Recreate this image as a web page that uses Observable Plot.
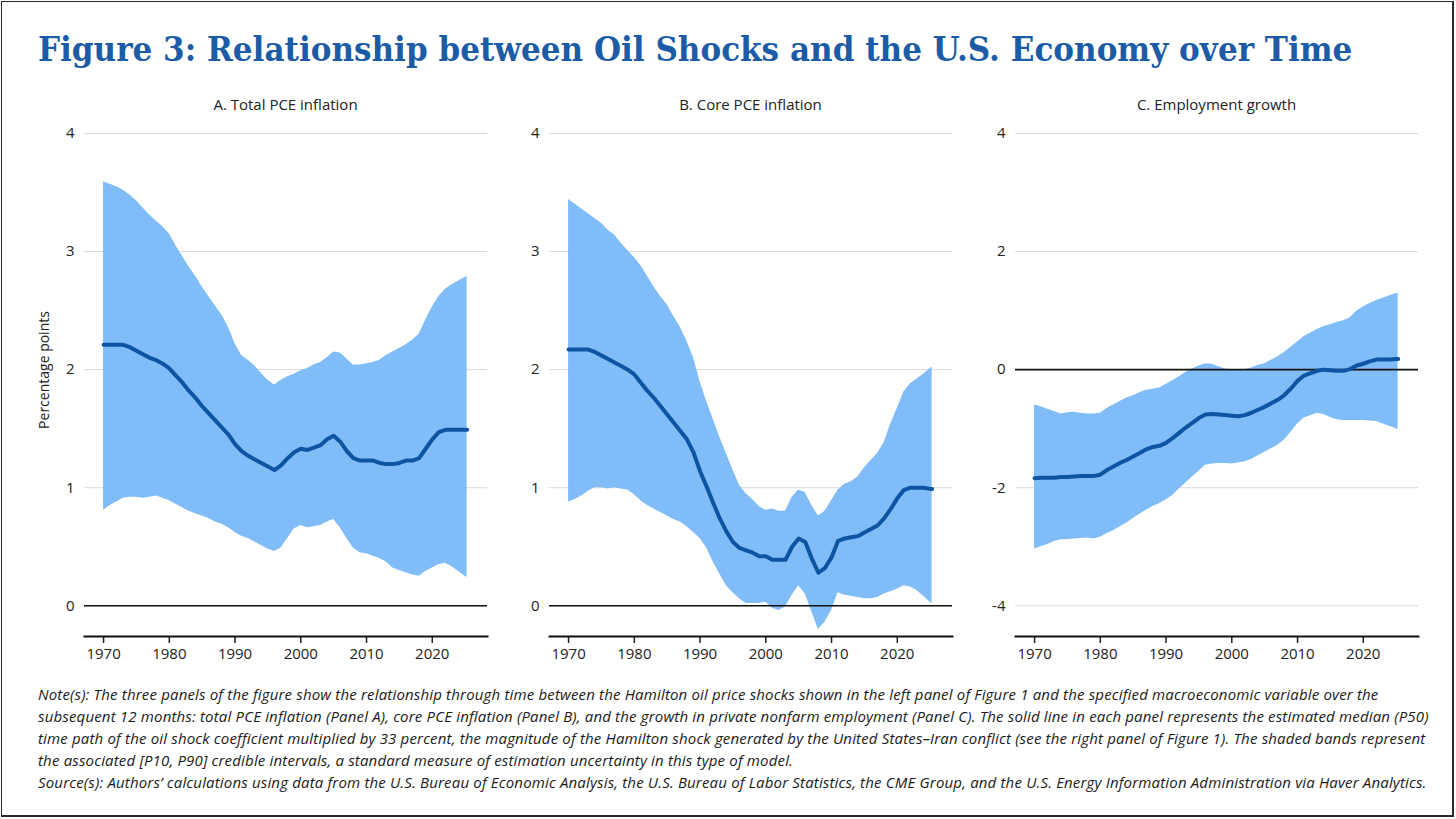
<!DOCTYPE html>
<html>
<head>
<meta charset="utf-8">
<script src="https://cdn.jsdelivr.net/npm/d3@7"></script>
<script src="https://cdn.jsdelivr.net/npm/@observablehq/plot@0.6"></script>
<style>
  html, body { margin: 0; padding: 0; background: #fff; }
  #page { position: relative; width: 1456px; height: 819px; overflow: hidden; background: #fff; font-family: "Open Sans", sans-serif; color: #222; }
  #border { position: absolute; left: 1px; top: 1px; width: 1450px; height: 813px; border: 2px solid #2a2a2a; border-top-width: 1px; border-left-width: 1px; }
  #title { position: absolute; left: 38px; top: 27px; font-family: "DejaVu Serif", serif; font-weight: bold; font-size: 34px; line-height: 44px; color: #1c5ca7; white-space: nowrap; transform-origin: 0 50%; }
  .ptitle { position: absolute; top: 94px; width: 403px; text-align: center; font-size: 15px; color: #222; }
  .panel { position: absolute; top: 120px; }
  #notes { position: absolute; left: 38px; top: 683px; font-size: 15px; letter-spacing: 0.17px; line-height: 22px; font-style: italic; color: #1a1a1a; white-space: nowrap; }
</style>
</head>
<body>
<div id="page">
  <div id="border"></div>
  <div id="title">Figure 3: Relationship between Oil Shocks and the U.S. Economy over Time</div>
  <div class="ptitle" style="left:84px">A. Total PCE inflation</div>
  <div class="ptitle" style="left:549px">B. Core PCE inflation</div>
  <div class="ptitle" style="left:1015px">C. Employment growth</div>
  <div class="panel" id="panelA" style="left:22px"></div>
  <div class="panel" id="panelB" style="left:487px"></div>
  <div class="panel" id="panelC" style="left:953px"></div>
  <div id="notes">
    Note(s): The three panels of the figure show the relationship through time between the Hamilton oil price shocks shown in the left panel of Figure 1 and the specified macroeconomic variable over the<br>
    subsequent 12 months: total PCE inflation (Panel A), core PCE inflation (Panel B), and the growth in private nonfarm employment (Panel C). The solid line in each panel represents the estimated median (P50)<br>
    time path of the oil shock coefficient multiplied by 33 percent, the magnitude of the Hamilton shock generated by the United States–Iran conflict (see the right panel of Figure 1). The shaded bands represent<br>
    the associated [P10, P90] credible intervals, a standard measure of estimation uncertainty in this type of model.<br>
    Source(s): Authors’ calculations using data from the U.S. Bureau of Economic Analysis, the U.S. Bureau of Labor Statistics, the CME Group, and the U.S. Energy Information Administration via Haver Analytics.
  </div>
</div>
<script>
// Sample dates (year), shared by every series below
const years = [
  1970, 1971, 1972, 1973, 1974, 1975, 1976, 1977, 1978, 1979,
  1980, 1981, 1982, 1983, 1984, 1985, 1986, 1987, 1988, 1989,
  1990, 1991, 1992, 1993, 1994, 1995, 1996, 1997, 1998, 1999,
  2000, 2001, 2002, 2003, 2004, 2005, 2006, 2007, 2008, 2009,
  2010, 2011, 2012, 2013, 2014, 2015, 2016, 2017, 2018, 2019,
  2020, 2021, 2022, 2023, 2024, 2025, 2025.3
];

// Panel A: total PCE inflation (percentage points)
const totalP90 = [
  3.59, 3.57, 3.55, 3.52, 3.48, 3.43, 3.37, 3.31, 3.26, 3.21,
  3.15, 3.05, 2.96, 2.87, 2.79, 2.70, 2.62, 2.54, 2.46, 2.36,
  2.22, 2.12, 2.08, 2.03, 1.97, 1.91, 1.87, 1.91, 1.94, 1.96,
  1.99, 2.01, 2.04, 2.06, 2.10, 2.15, 2.14, 2.09, 2.04, 2.04,
  2.05, 2.06, 2.08, 2.12, 2.15, 2.18, 2.21, 2.25, 2.30, 2.42,
  2.53, 2.62, 2.68, 2.72, 2.75, 2.78, 2.79
];
const totalP50 = [
  2.21, 2.21, 2.21, 2.21, 2.19, 2.16, 2.13, 2.10, 2.08, 2.05,
  2.01, 1.95, 1.89, 1.82, 1.76, 1.69, 1.63, 1.57, 1.51, 1.45,
  1.37, 1.31, 1.27, 1.24, 1.21, 1.18, 1.15, 1.19, 1.25, 1.30,
  1.33, 1.32, 1.34, 1.36, 1.41, 1.44, 1.39, 1.31, 1.25, 1.23,
  1.23, 1.23, 1.21, 1.20, 1.20, 1.21, 1.23, 1.23, 1.25, 1.33,
  1.41, 1.47, 1.49, 1.49, 1.49, 1.49, 1.49
];
const totalP10 = [
  0.81, 0.85, 0.88, 0.91, 0.92, 0.92, 0.91, 0.92, 0.93, 0.91,
  0.89, 0.86, 0.83, 0.80, 0.78, 0.76, 0.74, 0.71, 0.69, 0.66,
  0.62, 0.59, 0.57, 0.54, 0.51, 0.48, 0.46, 0.49, 0.57, 0.65,
  0.68, 0.66, 0.67, 0.68, 0.71, 0.73, 0.66, 0.57, 0.49, 0.45,
  0.44, 0.42, 0.40, 0.37, 0.32, 0.30, 0.28, 0.26, 0.25, 0.29,
  0.32, 0.35, 0.36, 0.33, 0.29, 0.25, 0.24
];

// Panel B: core PCE inflation (percentage points)
const coreP90 = [
  3.44, 3.40, 3.36, 3.32, 3.28, 3.24, 3.18, 3.14, 3.07, 3.01,
  2.95, 2.88, 2.79, 2.70, 2.62, 2.55, 2.45, 2.36, 2.24, 2.10,
  1.90, 1.73, 1.58, 1.43, 1.29, 1.15, 1.02, 0.95, 0.90, 0.84,
  0.81, 0.82, 0.80, 0.80, 0.92, 0.98, 0.96, 0.85, 0.76, 0.80,
  0.89, 0.98, 1.03, 1.05, 1.09, 1.17, 1.23, 1.29, 1.38, 1.54,
  1.67, 1.81, 1.88, 1.92, 1.96, 2.01, 2.02
];
const coreP50 = [
  2.17, 2.17, 2.17, 2.17, 2.15, 2.12, 2.09, 2.06, 2.03, 2.00,
  1.96, 1.89, 1.82, 1.76, 1.69, 1.62, 1.55, 1.48, 1.41, 1.30,
  1.14, 1.01, 0.87, 0.74, 0.63, 0.54, 0.49, 0.47, 0.45, 0.42,
  0.42, 0.39, 0.39, 0.39, 0.50, 0.57, 0.54, 0.40, 0.28, 0.32,
  0.41, 0.55, 0.57, 0.58, 0.59, 0.62, 0.65, 0.68, 0.74, 0.82,
  0.91, 0.98, 1.00, 1.00, 1.00, 0.99, 0.99
];
const coreP10 = [
  0.88, 0.90, 0.93, 0.97, 1.00, 1.00, 0.99, 1.00, 0.99, 0.98,
  0.94, 0.89, 0.85, 0.82, 0.79, 0.76, 0.73, 0.71, 0.67, 0.62,
  0.57, 0.49, 0.37, 0.27, 0.17, 0.11, 0.06, 0.02, 0.02, 0.02,
  0.03, -0.02, -0.04, -0.01, 0.09, 0.17, 0.10, -0.05, -0.20, -0.14,
  -0.04, 0.11, 0.09, 0.08, 0.07, 0.06, 0.06, 0.07, 0.10, 0.12,
  0.14, 0.17, 0.16, 0.13, 0.08, 0.03, 0.02
];

// Panel C: employment growth (percentage points)
const empP90 = [
  -0.60, -0.63, -0.67, -0.71, -0.75, -0.73, -0.72, -0.74, -0.75, -0.75,
  -0.74, -0.66, -0.60, -0.54, -0.48, -0.44, -0.39, -0.35, -0.33, -0.31,
  -0.25, -0.19, -0.12, -0.05, 0.01, 0.06, 0.10, 0.09, 0.05, 0.01,
  0.00, -0.01, 0.00, 0.03, 0.07, 0.10, 0.16, 0.22, 0.29, 0.38,
  0.47, 0.56, 0.62, 0.68, 0.73, 0.76, 0.80, 0.83, 0.88, 0.99,
  1.06, 1.12, 1.17, 1.21, 1.25, 1.29, 1.30
];
const empP50 = [
  -1.84, -1.83, -1.83, -1.83, -1.82, -1.82, -1.81, -1.80, -1.80, -1.80,
  -1.78, -1.70, -1.64, -1.58, -1.53, -1.47, -1.41, -1.35, -1.31, -1.29,
  -1.24, -1.16, -1.07, -0.98, -0.90, -0.82, -0.76, -0.75, -0.76, -0.77,
  -0.78, -0.79, -0.77, -0.73, -0.68, -0.63, -0.57, -0.51, -0.43, -0.32,
  -0.19, -0.10, -0.06, -0.02, 0.00, -0.01, -0.02, -0.02, 0.01, 0.07,
  0.10, 0.14, 0.17, 0.17, 0.17, 0.18, 0.18
];
const empP10 = [
  -3.04, -3.00, -2.96, -2.91, -2.88, -2.88, -2.87, -2.86, -2.85, -2.87,
  -2.84, -2.78, -2.73, -2.66, -2.60, -2.52, -2.45, -2.38, -2.32, -2.27,
  -2.21, -2.13, -2.02, -1.92, -1.82, -1.72, -1.62, -1.60, -1.59, -1.59,
  -1.60, -1.58, -1.56, -1.52, -1.46, -1.40, -1.34, -1.28, -1.19, -1.06,
  -0.92, -0.82, -0.78, -0.74, -0.76, -0.81, -0.85, -0.86, -0.86, -0.86,
  -0.86, -0.87, -0.88, -0.92, -0.96, -1.00, -1.02
];

// Axis ticks
const xTicks = [1970, 1980, 1990, 2000, 2010, 2020];
const inflationTicks = [0, 1, 2, 3, 4];
const employmentTicks = [-4, -2, 0, 2, 4];

const bandColor = "#80bdf8";
const lineColor = "#0d54a3";

function drawPanel({p10, p50, p90, yDomain, yTicks, yLabel}) {
  const rows = years.map((year, i) => ({year, lo: p10[i], mid: p50[i], hi: p90[i]}));
  const marks = [
    Plot.gridY(yTicks, {stroke: "#dadada", strokeOpacity: 1, strokeWidth: 1}),
    Plot.areaY(rows, {x: "year", y1: "lo", y2: "hi", fill: bandColor, fillOpacity: 1}),
    Plot.ruleY([0], {stroke: "#111", strokeWidth: 1.6}),
    Plot.lineY(rows, {x: "year", y: "mid", stroke: lineColor, strokeWidth: 4, strokeLinejoin: "round"}),
    Plot.axisY(yTicks, {tickSize: 0, tickPadding: 10, tickFormat: (d) => String(d), label: null, fontSize: 15}),
    Plot.axisX(xTicks, {tickSize: 7, tickPadding: 5, tickFormat: (d) => String(d), label: null, fontSize: 15, strokeWidth: 1.5}),
    Plot.frame({anchor: "bottom", stroke: "#111", strokeWidth: 2})
  ];
  if (yLabel) {
    marks.push(Plot.text([yLabel], {frameAnchor: "left", textAnchor: "middle", dx: -40, dy: -15, rotate: -90, fontSize: 14, fill: "#222"}));
  }
  return Plot.plot({
    width: 465,
    height: 556,
    marginLeft: 62,
    marginRight: 0,
    marginTop: 13,
    marginBottom: 40,
    x: {domain: [1967.1, 2028.4]},
    y: {domain: yDomain},
    style: {fontFamily: "'Open Sans', sans-serif", fontSize: "15px", color: "#222", background: "transparent", overflow: "visible"},
    marks
  });
}

document.getElementById("panelA").append(drawPanel({
  p10: totalP10, p50: totalP50, p90: totalP90,
  yDomain: [-0.26, 4], yTicks: inflationTicks, yLabel: "Percentage points"
}));
document.getElementById("panelB").append(drawPanel({
  p10: coreP10, p50: coreP50, p90: coreP90,
  yDomain: [-0.26, 4], yTicks: inflationTicks
}));
document.getElementById("panelC").append(drawPanel({
  p10: empP10, p50: empP50, p90: empP90,
  yDomain: [-4.52, 4], yTicks: employmentTicks
}));

// Stretch the heading so it spans the full chart width
const title = document.getElementById("title");
title.style.transform = `scaleX(${1314 / title.offsetWidth})`;
</script>
</body>
</html>
